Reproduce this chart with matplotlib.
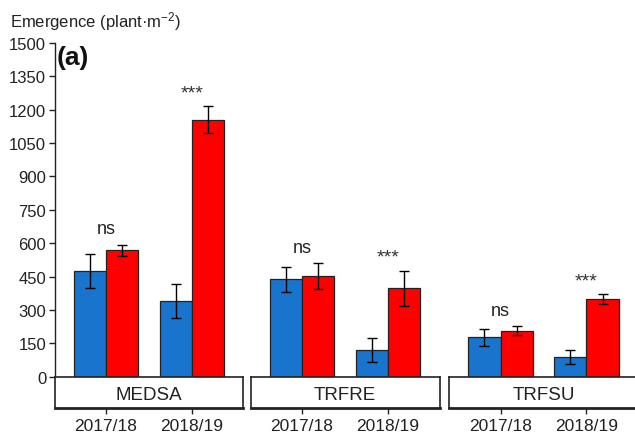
import numpy as np
import matplotlib.pyplot as plt

plt.rcParams['font.family'] = ['Liberation Sans', 'DejaVu Sans']
plt.rcParams['mathtext.fontset'] = 'custom'
plt.rcParams['mathtext.rm'] = 'Liberation Sans'
plt.rcParams['mathtext.it'] = 'Liberation Sans:italic'

species = ['MEDSA', 'TRFRE', 'TRFSU']
seasons = ['2017/18', '2018/19']

# mean emergence and error, one pair per species: [2017/18, 2018/19]
blue_mean = [[474, 342], [438, 120], [177, 88]]
blue_err = [[77, 76], [56, 53], [38, 30]]
red_mean = [[569, 1155], [453, 397], [207, 349]]
red_err = [[25, 60], [59, 77], [19, 21]]
signif = [['ns', '***'], ['ns', '***'], ['ns', '***']]

yticks = np.arange(0, 1501, 150)

blue = '#1874CD'
red = '#FF0000'

W, H = 635., 435.
lefts = [54.5, 250.5, 449]
pw = 189
top_px = 44
zero_px = 377.7
strip_bot = 409.3

fig = plt.figure(figsize=(6.35, 4.35), dpi=100)

x = np.arange(1, len(seasons) + 1)
w = 0.375

for i, sp in enumerate(species):
    ax = fig.add_axes([lefts[i] / W, 1 - zero_px / H, pw / W, (zero_px - top_px) / H])
    ax.bar(x - w / 2, blue_mean[i], w, color=blue, edgecolor='#222222', linewidth=0.9, zorder=2)
    ax.bar(x + w / 2, red_mean[i], w, color=red, edgecolor='#222222', linewidth=0.9, zorder=2)
    ax.errorbar(x - w / 2, blue_mean[i], yerr=blue_err[i], fmt='none', ecolor='black',
                elinewidth=1, capsize=3.6, capthick=1, zorder=3)
    ax.errorbar(x + w / 2, red_mean[i], yerr=red_err[i], fmt='none', ecolor='black',
                elinewidth=1, capsize=3.6, capthick=1, zorder=3)

    for j in range(len(seasons)):
        top = max(blue_mean[i][j] + blue_err[i][j], red_mean[i][j] + red_err[i][j])
        if signif[i][j] == 'ns':
            ax.text(x[j], top + 70, signif[i][j], ha='center', va='center',
                    fontsize=13, color='#222222', clip_on=False)
        else:
            ax.text(x[j], top + 62, signif[i][j], ha='center', va='center',
                    fontsize=14, color='#333333', clip_on=False)

    ax.set_xlim(0.4, 2.6)
    ax.set_ylim(0, 1500)
    ax.set_xticks([])
    for s in ['top', 'right', 'bottom']:
        ax.spines[s].set_visible(False)
    if i == 0:
        ax.set_yticks(yticks)
        ax.tick_params(axis='y', length=4, width=1, labelsize=12, pad=2, colors='#222222')
        ax.spines['left'].set_linewidth(1)
        ax.spines['left'].set_color('#222222')
    else:
        ax.set_yticks([])
        ax.spines['left'].set_visible(False)

    # strip with species name under each panel
    st = fig.add_axes([lefts[i] / W, 1 - strip_bot / H, pw / W, (strip_bot - zero_px) / H])
    st.set_xlim(0.4, 2.6)
    st.set_yticks([])
    st.set_xticks(x)
    st.set_xticklabels(seasons, fontsize=12.5, color='#222222')
    st.tick_params(axis='x', length=4, width=1, pad=3, colors='#222222')
    st.text(0.5, 0.45, sp, transform=st.transAxes, ha='center', va='center',
            fontsize=13.5, color='#222222')
    for s in st.spines.values():
        s.set_linewidth(1.2)
        s.set_color('#222222')
    st.spines['bottom'].set_linewidth(2)

fig.text(10 / W, 1 - 21.7 / H, 'Emergence (plant·m$^{-2}$)', ha='left', va='center',
         fontsize=12, color='#222222')
fig.text(57 / W, 1 - 58 / H, '(a)', ha='left', va='center', fontsize=19,
         fontweight='bold', color='#111111')

plt.savefig('out.png', dpi=100)
plt.close()
